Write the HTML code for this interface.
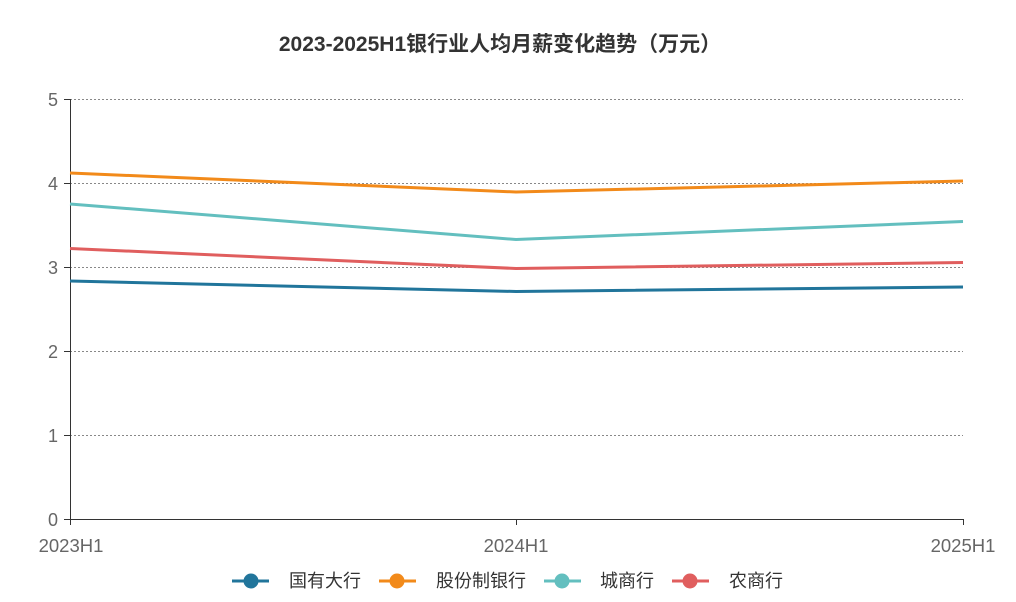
<!DOCTYPE html>
<html><head><meta charset="utf-8"><style>
body{margin:0;background:#fff;overflow:hidden;}
text{font-family:"Liberation Sans","Noto Sans CJK SC",sans-serif;}
</style></head><body>
<svg width="1016" height="597" xmlns="http://www.w3.org/2000/svg">
<text x="500" y="51" text-anchor="middle" font-size="21" font-weight="bold" fill="#333">2023-2025H1银行业人均月薪变化趋势（万元）</text>
<g stroke="#888" stroke-dasharray="2,2" stroke-width="1">
<line x1="70" y1="99.5" x2="963" y2="99.5"/>
<line x1="70" y1="183.5" x2="963" y2="183.5"/>
<line x1="70" y1="267.5" x2="963" y2="267.5"/>
<line x1="70" y1="351.5" x2="963" y2="351.5"/>
<line x1="70" y1="435.5" x2="963" y2="435.5"/>
</g>
<line x1="70.5" y1="99" x2="70.5" y2="519" stroke="#333"/>
<line x1="70" y1="519.5" x2="963" y2="519.5" stroke="#333"/>
<g stroke="#333"><line x1="70.5" y1="519" x2="70.5" y2="525"/><line x1="516.5" y1="519" x2="516.5" y2="525"/><line x1="963.5" y1="519" x2="963.5" y2="525"/>
<line x1="64" y1="99.5" x2="70" y2="99.5"/><line x1="64" y1="183.5" x2="70" y2="183.5"/><line x1="64" y1="267.5" x2="70" y2="267.5"/><line x1="64" y1="351.5" x2="70" y2="351.5"/><line x1="64" y1="435.5" x2="70" y2="435.5"/><line x1="64" y1="519.5" x2="70" y2="519.5"/></g>
<g font-size="18" fill="#666" text-anchor="end">
<text x="58" y="106">5</text><text x="58" y="190">4</text><text x="58" y="274">3</text><text x="58" y="358">2</text><text x="58" y="442">1</text><text x="58" y="526">0</text></g>
<g font-size="18.5" fill="#666" text-anchor="middle">
<text x="71" y="552">2023H1</text><text x="516" y="552">2024H1</text><text x="963" y="552">2025H1</text></g>
<g fill="none" stroke-width="3">
<polyline stroke="#21759b" points="70,281 516,291.5 963,287"/>
<polyline stroke="#f28a1a" points="70,173 516,192 963,181"/>
<polyline stroke="#63bfbf" points="70,204 516,239.5 963,221.5"/>
<polyline stroke="#e05e5e" points="70,248.5 516,268.5 963,262.5"/>
</g>
<g font-size="18" fill="#333">
<line x1="232" y1="581" x2="269" y2="581" stroke="#21759b" stroke-width="3"/><circle cx="251" cy="581" r="7.5" fill="#21759b"/><text x="289" y="587">国有大行</text>
<line x1="379" y1="581" x2="416" y2="581" stroke="#f28a1a" stroke-width="3"/><circle cx="397" cy="581" r="7.5" fill="#f28a1a"/><text x="436" y="587">股份制银行</text>
<line x1="544" y1="581" x2="581" y2="581" stroke="#63bfbf" stroke-width="3"/><circle cx="562" cy="581" r="7.5" fill="#63bfbf"/><text x="600" y="587">城商行</text>
<line x1="672" y1="581" x2="709" y2="581" stroke="#e05e5e" stroke-width="3"/><circle cx="690" cy="581" r="7.5" fill="#e05e5e"/><text x="729" y="587">农商行</text>
</g>
</svg>
</body></html>
